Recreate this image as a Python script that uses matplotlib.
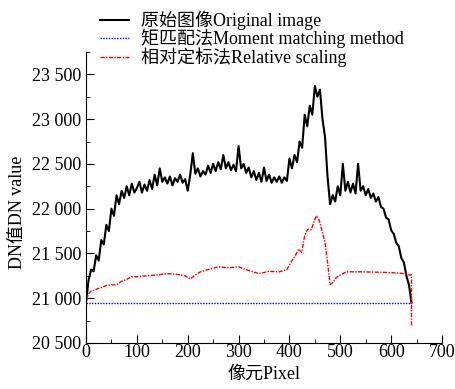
import matplotlib
matplotlib.use('Agg')
import matplotlib.pyplot as plt
import numpy as np
from matplotlib.ticker import MultipleLocator, FuncFormatter

plt.rcParams['font.family'] = ['Liberation Serif', 'Noto Sans CJK SC']
plt.rcParams['font.size'] = 13

# original image, read every 5 pixels
orig_x = list(range(0, 645, 5))
orig_y = [20950, 21200, 21320, 21300, 21480, 21420, 21650, 21600, 21820, 21750,
          22000, 21920, 22150, 22050, 22200, 22120, 22250, 22150, 22280, 22180,
          22230, 22300, 22180, 22270, 22200, 22320, 22220, 22380, 22260, 22450,
          22300, 22350, 22280, 22360, 22260, 22340, 22300, 22380, 22290, 22330,
          22200, 22380, 22620, 22390, 22450, 22360, 22420, 22380, 22480, 22400,
          22500, 22420, 22520, 22440, 22600, 22450, 22520, 22430, 22490, 22420,
          22700, 22450, 22500, 22400, 22460, 22350, 22420, 22320, 22400, 22300,
          22460, 22310, 22380, 22290, 22350, 22300, 22360, 22290, 22350, 22310,
          22560, 22450, 22600, 22520, 22750, 22680, 23050, 22920, 23150, 23050,
          23370, 23250, 23330, 23000, 22800, 22350, 22050, 22150, 22080, 22250,
          22150, 22500, 22200, 22300, 22180, 22280, 22170, 22500, 22200, 22250,
          22150, 22220, 22120, 22170, 22080, 22130, 22020, 22000, 21900, 21880,
          21760, 21720, 21620, 21580, 21450, 21400, 21250, 21150, 20950]

# moment matching
mm_x = [0, 640]
mm_y = [20950, 20950]

# relative scaling
rs_x = [0, 5, 10, 20, 30, 40, 50, 60, 70, 80, 90, 100, 120, 140, 160, 180, 195,
        205, 215, 225, 240, 260, 280, 300, 320, 340, 360, 380, 395, 405, 412,
        418, 424, 430, 436, 443, 448, 453, 458, 463, 470, 476, 480, 486, 492,
        500, 512, 540, 578, 604, 624, 637, 640, 640]
rs_y = [20960, 21050, 21080, 21100, 21120, 21140, 21150, 21150, 21190, 21210,
        21240, 21240, 21250, 21260, 21275, 21265, 21250, 21215, 21260, 21295,
        21320, 21350, 21340, 21350, 21310, 21275, 21300, 21295, 21320, 21420,
        21480, 21550, 21510, 21700, 21770, 21765, 21850, 21920, 21880, 21780,
        21620, 21350, 21150, 21180, 21230, 21260, 21295, 21295, 21290, 21285,
        21275, 21260, 21260, 20680]

fig = plt.figure(figsize=(4.56, 3.89), dpi=100)
ax = fig.add_axes([0.1886, 0.1183, 0.7807, 0.748])

ax.plot(orig_x, orig_y, color='black', lw=1.5, label='原始图像Original image')
ax.plot(mm_x, mm_y, color='blue', lw=1.0, ls=(0, (1, 1)), label='矩匹配法Moment matching method')
ax.plot(rs_x, rs_y, color='red', lw=1.0, ls=(0, (3, 1, 1, 1)), label='相对定标法Relative scaling')

ax.set_xlim(0, 700)
ax.set_ylim(20500, 23750)
ax.xaxis.set_major_locator(MultipleLocator(100))
ax.xaxis.set_minor_locator(MultipleLocator(50))
ax.yaxis.set_major_locator(MultipleLocator(500))
ax.yaxis.set_minor_locator(MultipleLocator(250))
ax.yaxis.set_major_formatter(FuncFormatter(lambda v, p: '{:,.0f}'.format(v).replace(',', ' ')))
ax.tick_params(which='both', direction='in')
ax.tick_params(which='major', length=6)
ax.tick_params(which='minor', length=3)
ax.tick_params(axis='x', pad=1)
ax.spines['top'].set_visible(False)
ax.spines['right'].set_visible(False)

ax.set_xlabel('像元Pixel', labelpad=3)
ax.set_ylabel('DN值DN value')
ax.yaxis.set_label_coords(-0.168, 0.45)

fig.legend(loc='upper left', bbox_to_anchor=(0.187, 1.01), frameon=False,
           handlelength=1.6, handletextpad=0.7, labelspacing=-0.05, borderpad=0.3)

fig.savefig('out.png', dpi=100)
